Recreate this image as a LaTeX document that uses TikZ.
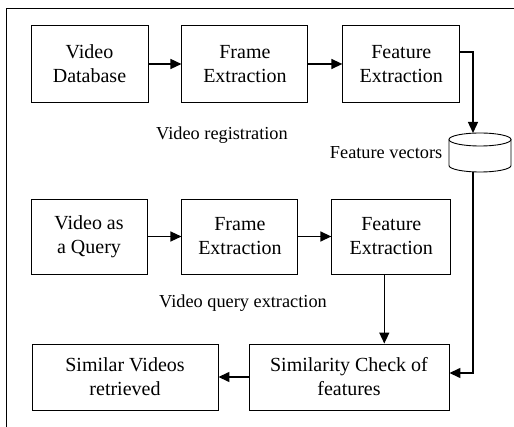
\documentclass[tikz,border=0pt]{standalone}
\usepackage{fontspec}
\setmainfont{Liberation Serif}
\usetikzlibrary{positioning}
\usetikzlibrary{arrows.meta}

\begin{document}
\begin{tikzpicture}[x=1pt,y=-1pt,
    box/.style={draw,line width=0.9pt,align=center,inner sep=2pt,
        font=\fontsize{20}{24}\selectfont},
    lbl/.style={font=\fontsize{18.3}{22}\selectfont},
    arr/.style={-{Triangle[length=11pt,width=10pt]},line width=1.4pt}]
    \clip (0,0) rectangle (514,427);
    \draw[line width=0.9pt] (514,8) -- (6,8) -- (6,427);

    % video registration
    \node[box,minimum width=117pt,minimum height=77pt] (vdb) at (89.5,64) {Video\\Database};
    \node[box,minimum width=126pt,minimum height=77pt,right=33pt of vdb] (fr1) {Frame\\Extraction};
    \node[box,minimum width=117pt,minimum height=77pt,right=34pt of fr1] (fx1) {Feature\\Extraction};
    \node[lbl] (reg) at (222,135) {Video registration};

    % feature vectors store
    \node[minimum width=62pt,minimum height=39pt,inner sep=0pt] (fv) at (480,152.5) {};
    \draw[line width=0.9pt] (480,139.5) ellipse[x radius=31pt,y radius=6.5pt];
    \draw[line width=0.9pt] (449,139.5) -- (449,165.5)
        arc[start angle=180,end angle=360,x radius=31pt,y radius=6.5pt] -- (511,139.5);
    \coordinate (fvin) at (473,133);
    \coordinate (fvout) at (473,172);
    \node[lbl,left=3pt of fv] (fvl) {Feature vectors};

    % video query
    \node[box,minimum width=116pt,minimum height=75pt] (vq) at (89,236.5) {Video as\\a Query};
    \node[box,minimum width=116pt,minimum height=75pt,right=34pt of vq] (fr2) {Frame\\Extraction};
    \node[box,minimum width=119pt,minimum height=75pt,right=33pt of fr2] (fx2) {Feature\\Extraction};
    \node[lbl] (qry) at (243,303) {Video query extraction};

    \node[box,minimum width=200pt,minimum height=66pt] (sim) at (349,377) {Similarity Check of\\features};
    \node[box,minimum width=186pt,minimum height=66pt] (res) at (125,377) {Similar Videos\\retrieved};

    \draw[arr] (vdb) -- (fr1);
    \draw[arr] (fr1) -- (fx1);
    \draw[arr] ([yshift=12pt]fx1.east) -| (fvin);
    \draw[arr] (vq) -- (fr2);
    \draw[arr] (fr2) -- (fx2);
    \draw[arr] ([xshift=-7pt]fx2.south) -- ([xshift=-7pt]fx2.south |- sim.north);
    \draw[arr] (fvout) |- ([yshift=4pt]sim.east);
    \draw[arr] (sim) -- (res);
\end{tikzpicture}
\end{document}
